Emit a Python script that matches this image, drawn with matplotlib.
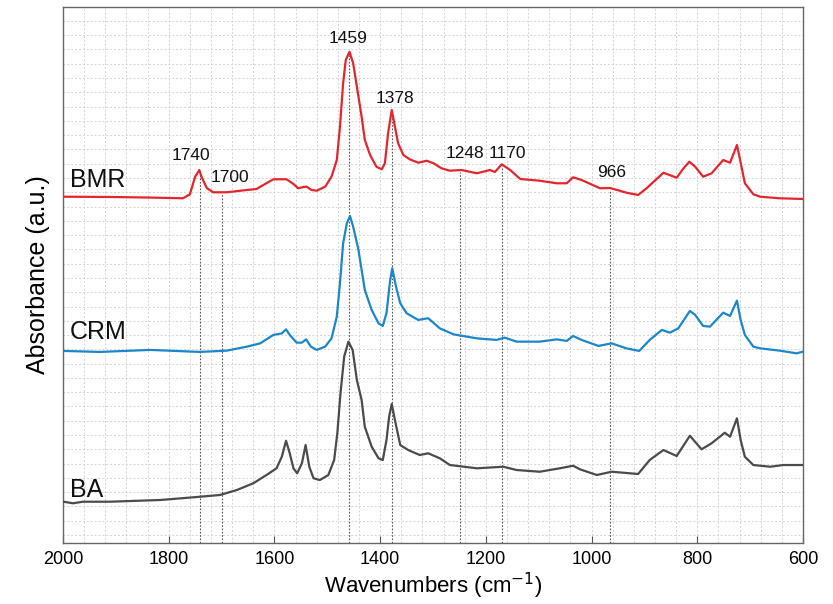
import numpy as np
import matplotlib
matplotlib.use("Agg")
import matplotlib.pyplot as plt
from matplotlib.ticker import MultipleLocator

# FTIR spectra (wavenumber in cm-1, absorbance in offset a.u.)
bmr_wn = [1999, 1911, 1835, 1773, 1760, 1750, 1742, 1738, 1728, 1716, 1690, 1652, 1634,
          1621, 1602, 1577, 1564, 1555, 1545, 1539, 1530, 1520, 1504, 1492, 1482, 1476,
          1470, 1465, 1458, 1451, 1444, 1435, 1429, 1419, 1407, 1397, 1391, 1385, 1378,
          1372, 1366, 1356, 1344, 1328, 1312, 1299, 1284, 1268, 1246, 1217, 1192, 1183,
          1170, 1154, 1135, 1098, 1066, 1047, 1035, 1019, 984, 965, 934, 912, 896, 864,
          839, 826, 815, 804, 789, 773, 751, 738, 725, 719, 710, 694, 681, 644, 600]
bmr_abs = [23.69, 23.67, 23.63, 23.58, 23.85, 25.09, 25.56, 25.09, 24.30, 24.00, 24.00,
           24.16, 24.23, 24.51, 24.91, 24.91, 24.58, 24.28, 24.37, 24.39, 24.16, 24.11,
           24.39, 25.09, 26.26, 28.59, 31.65, 33.26, 33.84, 33.03, 31.39, 29.29, 27.66,
           26.61, 25.79, 25.61, 26.03, 28.13, 29.76, 28.59, 27.43, 26.61, 26.31, 26.07,
           26.21, 26.03, 25.68, 25.51, 25.56, 25.33, 25.56, 25.42, 25.96, 25.56, 24.93,
           24.81, 24.63, 24.63, 25.05, 24.86, 24.28, 24.30, 23.97, 23.81, 24.28, 25.37,
           25.02, 25.68, 26.14, 25.79, 25.09, 25.33, 26.26, 26.07, 27.31, 26.26, 24.63,
           23.86, 23.69, 23.58, 23.53]

crm_wn = [1999, 1930, 1835, 1741, 1690, 1652, 1627, 1602, 1586, 1578, 1571, 1558, 1548,
          1540, 1531, 1520, 1504, 1492, 1482, 1476, 1470, 1463, 1457, 1451, 1441, 1435,
          1429, 1416, 1403, 1395, 1388, 1381, 1377, 1370, 1362, 1350, 1328, 1309, 1287,
          1261, 1217, 1180, 1164, 1142, 1098, 1066, 1047, 1035, 1019, 987, 962, 934, 910,
          890, 867, 852, 836, 814, 804, 789, 776, 751, 738, 725, 718, 710, 694, 681, 644,
          612, 600]
crm_abs = [12.89, 12.82, 12.96, 12.82, 12.91, 13.19, 13.42, 14.01, 14.12, 14.40, 14.01,
           13.47, 13.47, 13.70, 13.19, 12.96, 13.19, 13.77, 15.29, 17.63, 20.43, 21.83,
           22.34, 21.59, 19.96, 18.56, 17.16, 15.76, 14.82, 14.64, 15.53, 17.86, 18.68,
           17.39, 16.23, 15.53, 15.06, 15.18, 14.47, 14.05, 13.77, 13.66, 13.82, 13.54,
           13.54, 13.70, 13.59, 13.94, 13.66, 13.24, 13.42, 13.07, 12.89, 13.66, 14.36,
           14.17, 14.47, 15.69, 15.41, 14.64, 14.59, 15.57, 15.34, 16.41, 15.06, 14.01,
           13.19, 13.07, 12.91, 12.72, 12.84]

ba_wn = [1999, 1981, 1962, 1911, 1816, 1753, 1703, 1671, 1640, 1615, 1596, 1586, 1578,
         1571, 1564, 1557, 1548, 1541, 1534, 1526, 1514, 1498, 1487, 1481, 1475, 1468,
         1460, 1452, 1444, 1435, 1429, 1416, 1403, 1395, 1388, 1383, 1378, 1372, 1362,
         1347, 1325, 1309, 1287, 1268, 1217, 1167, 1142, 1098, 1060, 1035, 1022, 990,
         962, 912, 890, 864, 839, 814, 792, 773, 748, 738, 725, 718, 710, 694, 662, 637,
         600]
ba_abs = [2.33, 2.22, 2.33, 2.33, 2.45, 2.64, 2.80, 3.15, 3.62, 4.20, 4.67, 5.48, 6.60,
          5.72, 4.67, 4.32, 5.02, 6.30, 4.78, 3.97, 3.85, 4.20, 5.25, 7.12, 9.92, 12.49,
          13.54, 12.96, 10.85, 9.45, 7.58, 6.18, 5.37, 5.25, 6.65, 8.28, 9.17, 8.05, 6.30,
          5.95, 5.60, 5.72, 5.37, 4.90, 4.67, 4.78, 4.55, 4.43, 4.67, 4.85, 4.60, 4.20,
          4.43, 4.27, 5.25, 5.95, 5.53, 6.95, 6.00, 6.42, 7.16, 6.88, 8.17, 6.65, 5.48,
          4.90, 4.78, 4.90, 4.90]

peaks = [1740, 1700, 1459, 1378, 1248, 1170, 966]
# label anchor (wavenumber, absorbance) for each peak label
peak_label_wn = [1758, 1684, 1461, 1372, 1239, 1160, 963]
peak_label_y = [26.6, 25.0, 34.8, 30.6, 26.75, 26.75, 25.35]

samples = ["BMR", "CRM", "BA"]
colors = ["#e3262d", "#1b86c8", "#4b4b4b"]
sample_label_y = [24.86, 14.2, 3.15]

plt.rcParams["font.family"] = ["Liberation Sans", "DejaVu Sans"]

fig = plt.figure(figsize=(8.33, 6.04), dpi=100)
ax = fig.add_axes([0.0756, 0.1015, 0.8884, 0.8875])

series = [(bmr_wn, bmr_abs), (crm_wn, crm_abs), (ba_wn, ba_abs)]
for (wn, ab), c in zip(series, colors):
    ax.plot(wn, ab, color=c, linewidth=1.6, solid_joinstyle="round",
            solid_capstyle="round", zorder=3)

ax.set_xlim(2000, 600)
ax.set_ylim(-0.54, 37)

# peak guide lines from the BMR trace down to the axis
bmr_x = np.array(bmr_wn)[::-1]
bmr_y = np.array(bmr_abs)[::-1]
for p in peaks:
    top = np.interp(p, bmr_x, bmr_y) - 0.15
    ax.plot([p, p], [-0.54, top], color="#555555", linestyle=(0, (1.5, 1.5)),
            linewidth=0.8, zorder=2)
for p, lx, ly in zip(peaks, peak_label_wn, peak_label_y):
    ax.text(lx, ly, str(p), ha="center", va="center", fontsize=12.5, color="#111111")

for s, ly in zip(samples, sample_label_y):
    ax.text(1987, ly, s, ha="left", va="center", fontsize=18, color="#111111")

ax.xaxis.set_major_locator(MultipleLocator(200))
ax.xaxis.set_minor_locator(MultipleLocator(40))
ax.set_yticks([])
ax.yaxis.set_minor_locator(MultipleLocator(1))
ax.grid(which="both", axis="x", color="#d4d4d4", linestyle=(0, (2, 2)), linewidth=0.7)
ax.grid(which="minor", axis="y", color="#d4d4d4", linestyle=(0, (2, 2)), linewidth=0.7)
ax.tick_params(axis="x", which="major", direction="in", length=5, width=0.8,
               color="#555555", pad=6, labelsize=13)
ax.tick_params(axis="x", which="minor", length=0)
ax.tick_params(axis="y", which="both", length=0)
for sp in ax.spines.values():
    sp.set_color("#666666")
    sp.set_linewidth(1.0)

ax.set_xlabel("Wavenumbers (cm$^{-1}$)", fontsize=16, labelpad=2)
ax.set_ylabel("Absorbance (a.u.)", fontsize=18, labelpad=6)

fig.savefig("out.png", dpi=100)
